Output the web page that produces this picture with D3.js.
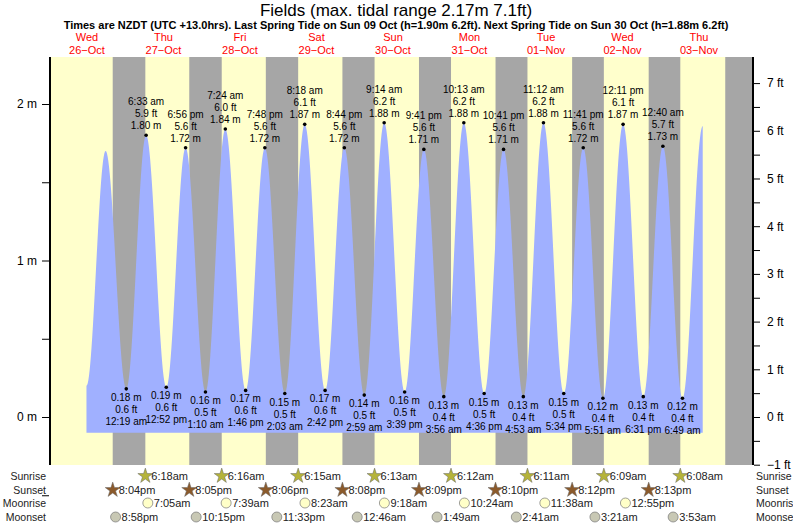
<!DOCTYPE html>
<html><head><meta charset="utf-8">
<script src="https://cdn.jsdelivr.net/npm/d3@7"></script>
<style>body{margin:0;background:#fff}text{font-family:"Liberation Sans",Arial,sans-serif}</style>
</head><body><svg id="c" width="793" height="525"></svg>
<script>
// day index 0 = Wed 26-Oct
var dayNames = ['Wed','Thu','Fri','Sat','Sun','Mon','Tue','Wed','Thu'];
var dayDates = ['26-Oct','27-Oct','28-Oct','29-Oct','30-Oct','31-Oct','01-Nov','02-Nov','03-Nov'];

// tide extremes: day index, time, metres
var tideDay = [0,0,1,1,1,1,2,2,2,2,3,3,3,3,4,4,4,4,5,5,5,5,6,6,6,6,7,7,7,8,8,8];
var tideTime = ['11:50am','5:50pm','12:19am','6:33am','12:52pm','6:56pm','1:10am','7:24am','1:46pm','7:48pm',
  '2:03am','8:18am','2:42pm','8:44pm','2:59am','9:14am','3:39pm','9:41pm','3:56am','10:13am','4:36pm','10:41pm',
  '4:53am','11:12am','5:34pm','11:41pm','5:51am','12:11pm','6:31pm','12:40am','6:49am','1:10pm'];
var tideM = [0.20,1.70,0.18,1.80,0.19,1.72,0.16,1.84,0.17,1.72,0.15,1.87,0.17,1.72,0.14,1.88,0.16,1.71,
  0.13,1.88,0.15,1.71,0.13,1.88,0.15,1.72,0.12,1.87,0.13,1.73,0.12,1.86];
var labelFrom = 2, labelTo = 30; // extremes that carry labels

var sunriseTimes = ['','6:18am','6:16am','6:15am','6:13am','6:12am','6:11am','6:09am','6:08am'];
var sunsetTimes = ['8:04pm','8:05pm','8:06pm','8:08pm','8:09pm','8:10pm','8:12pm','8:13pm','8:14pm'];
var moonriseDay = [1,2,3,4,5,6,7];
var moonriseTimes = ['7:05am','7:39am','8:23am','9:18am','10:24am','11:38am','12:55pm'];
var moonsetDay = [0,1,2,4,5,6,7,8];
var moonsetTimes = ['8:58pm','10:15pm','11:33pm','12:46am','1:49am','2:41am','3:21am','3:53am'];

function hrs(day, t) {
  var m = t.match(/(\d+):(\d+)\s*(am|pm)/);
  var h = +m[1] % 12; if (m[3] == 'pm') h += 12;
  return day * 24 + h + (+m[2]) / 60;
}

var svg = d3.select('#c');
var L = 50, R = 753, T = 57, B = 465;
var x = d3.scaleLinear().domain([0, 24 * 9]).range([48.75, 48.75 + 76.5 * 9]);
var y = d3.scaleLinear().domain([0, 2]).range([417, 104]);
var yft = d3.scaleLinear().domain([0, 7]).range([y(0), y(7 * 0.3048)]);

svg.append('defs').append('clipPath').attr('id', 'pc').append('rect')
  .attr('x', L).attr('y', T).attr('width', R - L).attr('height', B - T);
var g = svg.append('g').attr('clip-path', 'url(#pc)');
g.append('rect').attr('x', L).attr('y', T).attr('width', R - L).attr('height', B - T).attr('fill', '#ffffcc');

// nights
sunsetTimes.forEach(function(s, i) {
  var x0 = x(hrs(i, s));
  var x1 = sunriseTimes[i + 1] ? x(hrs(i + 1, sunriseTimes[i + 1])) : R;
  g.append('rect').attr('x', x0).attr('y', T).attr('width', x1 - x0).attr('height', B - T).attr('fill', '#a6a6a6');
});

// tide curve (cosine between extremes)
var ext = tideM.map(function(m, i) { return {t: hrs(tideDay[i], tideTime[i]), m: m}; });
var pts = [];
for (var i = 0; i < ext.length - 1; i++) {
  var a = ext[i], b = ext[i + 1];
  for (var k = 0; k < 30; k++) {
    var f = k / 30;
    pts.push({t: a.t + (b.t - a.t) * f, m: a.m + (b.m - a.m) * (1 - Math.cos(Math.PI * f)) / 2});
  }
}
pts.push(ext[ext.length - 1]);
g.append('path').datum(pts).attr('fill', '#a0b0ff')
  .attr('d', d3.area().x(function(d) { return x(d.t); }).y0(y(-0.1)).y1(function(d) { return y(d.m); }));

// labels
var lab = svg.append('g').attr('font-size', 10).attr('text-anchor', 'middle').attr('fill', '#000');
ext.forEach(function(e, i) {
  if (i < labelFrom || i > labelTo) return;
  var high = e.m > 1, px = x(e.t), py = y(e.m);
  lab.append('circle').attr('cx', px).attr('cy', py).attr('r', 1.8);
  var ft = (e.m * 3.28084).toFixed(1) + ' ft', mm = e.m.toFixed(2) + ' m';
  var lines = high ? [tideTime[i].replace(/(am|pm)/, ' $1'), ft, mm] : [mm, ft, tideTime[i].replace(/(am|pm)/, ' $1')];
  lines.forEach(function(s, j) {
    lab.append('text').attr('x', px).attr('y', high ? py - 30 + j * 12 : py + 12 + j * 12).text(s);
  });
});

// axes
svg.append('line').attr('x1', L).attr('x2', L).attr('y1', T).attr('y2', B).attr('stroke', '#000').attr('stroke-width', 2);
svg.append('line').attr('x1', R).attr('x2', R).attr('y1', T).attr('y2', B).attr('stroke', '#000').attr('stroke-width', 2);
var ax = svg.append('g').attr('transform', 'translate(' + (L - 1) + ',0)')
  .call(d3.axisLeft(y).tickValues([-0.5, 0, 0.5, 1, 1.5, 2]).tickSize(7).tickFormat(function(d) { return d % 1 ? '' : d + ' m'; }));
ax.select('.domain').remove();
ax.selectAll('text').attr('font-size', 12).attr('x', -12);
var ax2 = svg.append('g').attr('transform', 'translate(' + (R + 1) + ',0)')
  .call(d3.axisRight(yft).tickValues(d3.range(-1, 7.5, 0.5)).tickSize(6).tickFormat(function(d) { return d % 1 ? '' : d + ' ft'; }));
ax2.select('.domain').remove();
ax2.selectAll('text').attr('font-size', 12).attr('x', 13).text(function(d) { return d % 1 ? '' : (d < 0 ? '\u2212' + (-d) : d) + ' ft'; });

// titles
svg.append('text').attr('x', 396).attr('y', 16).attr('text-anchor', 'middle').attr('font-size', 17).text('Fields (max. tidal range 2.17m 7.1ft)');
svg.append('text').attr('x', 396).attr('y', 29).attr('text-anchor', 'middle').attr('font-size', 11).attr('font-weight', 'bold')
  .text('Times are NZDT (UTC +13.0hrs). Last Spring Tide on Sun 09 Oct (h=1.90m 6.2ft). Next Spring Tide on Sun 30 Oct (h=1.88m 6.2ft)');
dayNames.forEach(function(d, i) {
  var cx = x(i * 24 + 12);
  svg.append('text').attr('x', cx).attr('y', 41).attr('text-anchor', 'middle').attr('font-size', 11).attr('fill', 'red').text(d);
  svg.append('text').attr('x', cx).attr('y', 54).attr('text-anchor', 'middle').attr('font-size', 11).attr('fill', 'red').text(dayDates[i].replace('-', '\u2212'));
});

// sun / moon rows
var rowY = [476, 490, 503, 517], rowN = ['Sunrise', 'Sunset', 'Moonrise', 'Moonset'];
rowN.forEach(function(n, i) {
  svg.append('text').attr('x', 46).attr('y', rowY[i] + 4).attr('text-anchor', 'end').attr('font-size', 10.5).attr('fill', '#222').text(n);
  svg.append('text').attr('x', 756).attr('y', rowY[i] + 4).attr('font-size', 10.5).attr('fill', '#222').text(n);
});
var star = d3.symbol().type(d3.symbolStar).size(70);
function mark(px, py, kind, fill, txt) {
  if (kind == 'star') svg.append('path').attr('d', star()).attr('transform', 'translate(' + px + ',' + py + ')').attr('fill', fill).attr('stroke', '#666').attr('stroke-width', 0.5);
  else svg.append('circle').attr('cx', px).attr('cy', py).attr('r', 5).attr('fill', fill).attr('stroke', '#777').attr('stroke-width', 0.7);
  svg.append('text').attr('x', px + 6).attr('y', py + 4).attr('font-size', 11).attr('fill', '#222').text(txt);
}
sunriseTimes.forEach(function(s, i) { if (s) mark(x(hrs(i, s)), rowY[0], 'star', '#b5b33a', s); });
sunsetTimes.slice(0, 8).forEach(function(s, i) { mark(x(hrs(i, s)), rowY[1], 'star', '#8b5a2b', s); });
moonriseTimes.forEach(function(s, i) { mark(x(hrs(moonriseDay[i], s)), rowY[2], 'c', '#ffffc8', s); });
moonsetTimes.forEach(function(s, i) { mark(x(hrs(moonsetDay[i], s)), rowY[3], 'c', '#c8c8b4', s); });
</script></body></html>
